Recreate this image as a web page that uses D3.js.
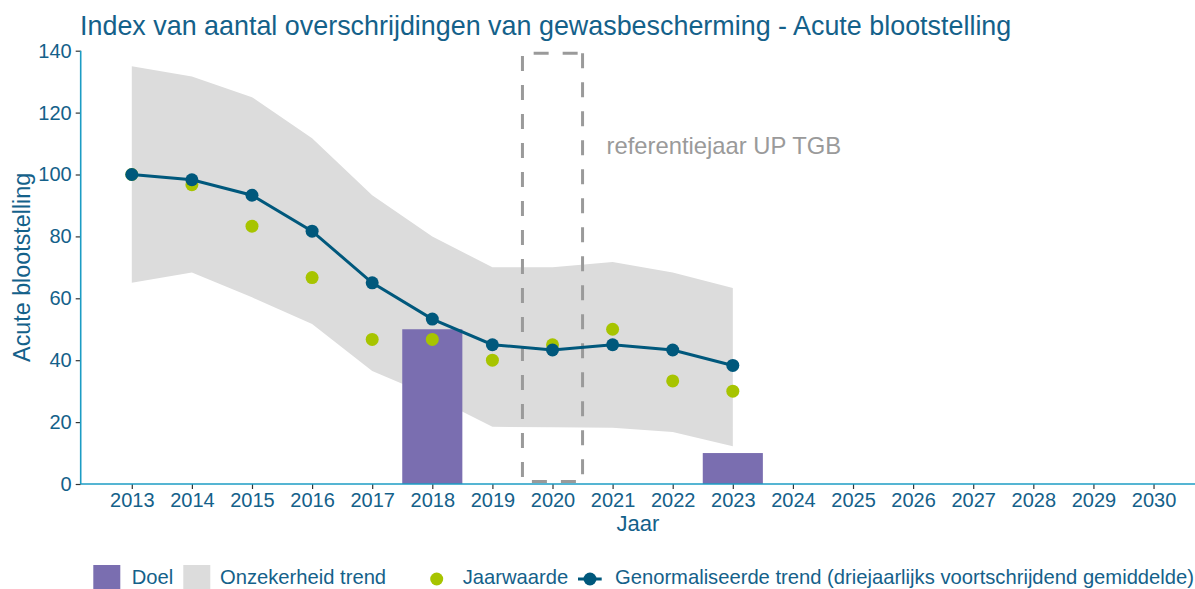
<!DOCTYPE html>
<html>
<head>
<meta charset="utf-8">
<script src="https://cdn.jsdelivr.net/npm/d3@7"></script>
<style>
  html, body { margin: 0; padding: 0; background: #ffffff; }
  svg { display: block; font-family: "Liberation Sans", Arial, sans-serif; }
</style>
</head>
<body>
<svg id="chart" width="1195" height="589"></svg>
<script>
// ---- data ----
const years = [2013, 2014, 2015, 2016, 2017, 2018, 2019, 2020, 2021, 2022, 2023];
const trend = [100, 98.3, 93.3, 81.7, 65, 53.3, 45, 43.3, 45, 43.3, 38.3];
const jaarwaarde = [100, 96.7, 83.3, 66.7, 46.7, 46.7, 40, 45, 50, 33.3, 30];
const bandUpper = [135, 131.7, 125, 111.7, 93.3, 80, 70, 70, 71.7, 68.3, 63.3];
const bandLower = [65, 68.3, 60.3, 51.7, 36.5, 28.3, 18.5, 18.3, 18.2, 16.8, 12.2];
const doelYears = [2018, 2023];
const doelValues = [50, 10];
const refYear = [2020];
const refRange = [0.8, 139.2];
const xTicks = [2013,2014,2015,2016,2017,2018,2019,2020,2021,2022,2023,2024,2025,2026,2027,2028,2029,2030];
const yTicks = [0, 20, 40, 60, 80, 100, 120, 140];
const legendLabels = ["Doel", "Onzekerheid trend", "Jaarwaarde", "Genormaliseerde trend (driejaarlijks voortschrijdend gemiddelde)"];
const titleText = "Index van aantal overschrijdingen van gewasbescherming - Acute blootstelling";

// ---- style ----
const textColor = "#14618a";
const axisColor = "#1c9cc4";
const trendColor = "#00587c";
const greenColor = "#a7c400";
const purple = "#7a6eb0";
const bandColor = "#dcdcdc";
const dashColor = "#9a9a9a";

const svg = d3.select("#chart");
const x = d3.scaleLinear().domain([2012.15, 2030.69]).range([80.7, 1195]);
const y = d3.scaleLinear().domain([0, 140]).range([484, 50.7]);

const rows = years.map((yr, i) => ({yr, t: trend[i], j: jaarwaarde[i], hi: bandUpper[i], lo: bandLower[i]}));

// ribbon
svg.append("path")
  .datum(rows)
  .attr("fill", bandColor)
  .attr("d", d3.area().x(d => x(d.yr)).y0(d => y(d.lo)).y1(d => y(d.hi)));

// doel bars
svg.selectAll("rect.doel")
  .data(doelYears.map((yr, i) => ({yr, v: doelValues[i]})))
  .enter().append("rect")
  .attr("class", "doel")
  .attr("x", d => x(d.yr - 0.5))
  .attr("width", d => x(d.yr + 0.5) - x(d.yr - 0.5))
  .attr("y", d => y(d.v))
  .attr("height", d => y(0) - y(d.v))
  .attr("fill", purple);

// reference dashed rectangle
refYear.forEach(ry => {
  const x0 = x(ry - 0.5), x1 = x(ry + 0.5), yt = y(refRange[1]), yb = y(refRange[0]);
  const p = d3.path();
  p.moveTo(x1, yt); p.lineTo(x1, yb); p.lineTo(x0, yb); p.lineTo(x0, yt); p.closePath();
  svg.append("path")
    .attr("d", p.toString())
    .attr("fill", "none")
    .attr("stroke", dashColor)
    .attr("stroke-width", 3)
    .attr("stroke-dasharray", "15,14");
  svg.append("text")
    .attr("x", x(ry + 0.5) + 24)
    .attr("y", y(106.5))
    .attr("fill", dashColor)
    .attr("font-size", 23.8)
    .text("referentiejaar UP TGB");
});

// axes
const yAxis = svg.append("g")
  .attr("transform", `translate(${x.range()[0]},0)`)
  .call(d3.axisLeft(y).tickValues(yTicks).tickSize(5).tickPadding(4));
yAxis.select(".domain").remove();
yAxis.selectAll(".tick line").attr("stroke", "#333").attr("stroke-width", 1.2);
yAxis.selectAll(".tick text").attr("fill", textColor).attr("font-size", 20).attr("font-family", "Liberation Sans, Arial, sans-serif");

const xAxis = svg.append("g")
  .attr("transform", `translate(0,${y(0)})`)
  .call(d3.axisBottom(x).tickValues(xTicks).tickFormat(d3.format("d")).tickSize(5).tickPadding(4));
xAxis.select(".domain").remove();
xAxis.selectAll(".tick line").attr("stroke", "#333").attr("stroke-width", 1.2);
xAxis.selectAll(".tick text").attr("fill", textColor).attr("font-size", 20).attr("font-family", "Liberation Sans, Arial, sans-serif");

svg.append("line")
  .attr("x1", x.range()[0]).attr("x2", x.range()[1])
  .attr("y1", y(0)).attr("y2", y(0))
  .attr("stroke", axisColor).attr("stroke-width", 1.6);
svg.append("line")
  .attr("x1", x.range()[0]).attr("x2", x.range()[0])
  .attr("y1", y(0)).attr("y2", y(140))
  .attr("stroke", axisColor).attr("stroke-width", 1.6);

// jaarwaarde points
svg.selectAll("circle.jw")
  .data(rows)
  .enter().append("circle")
  .attr("class", "jw")
  .attr("cx", d => x(d.yr)).attr("cy", d => y(d.j)).attr("r", 6.5)
  .attr("fill", greenColor);

// trend line
svg.append("path")
  .datum(rows)
  .attr("fill", "none")
  .attr("stroke", trendColor)
  .attr("stroke-width", 3)
  .attr("d", d3.line().x(d => x(d.yr)).y(d => y(d.t)));
svg.selectAll("circle.tr")
  .data(rows)
  .enter().append("circle")
  .attr("class", "tr")
  .attr("cx", d => x(d.yr)).attr("cy", d => y(d.t)).attr("r", 6.5)
  .attr("fill", trendColor);

// titles
svg.append("text")
  .attr("x", 80).attr("y", 35)
  .attr("fill", textColor).attr("font-size", 26.9)
  .text(titleText);
svg.append("text")
  .attr("x", (x.range()[0] + x.range()[1]) / 2).attr("y", 531)
  .attr("text-anchor", "middle")
  .attr("fill", textColor).attr("font-size", 22)
  .text("Jaar");
svg.append("text")
  .attr("transform", `translate(30,${(y(0) + y(140)) / 2}) rotate(-90)`)
  .attr("text-anchor", "middle")
  .attr("fill", textColor).attr("font-size", 23.3)
  .text("Acute blootstelling");

// legend
const ly = 577;
const lg = svg.append("g");
lg.append("rect").attr("x", 93.3).attr("y", ly - 12).attr("width", 27).attr("height", 27).attr("fill", purple);
lg.append("text").attr("x", 131.7).attr("y", ly).attr("dy", "0.35em").attr("fill", textColor).attr("font-size", 20.2).text(legendLabels[0]);
lg.append("rect").attr("x", 183.3).attr("y", ly - 12).attr("width", 27).attr("height", 27).attr("fill", bandColor);
lg.append("text").attr("x", 220).attr("y", ly).attr("dy", "0.35em").attr("fill", textColor).attr("font-size", 20.2).text(legendLabels[1]);
lg.append("circle").attr("cx", 436.7).attr("cy", ly + 2).attr("r", 6.5).attr("fill", greenColor);
lg.append("text").attr("x", 462.7).attr("y", ly).attr("dy", "0.35em").attr("fill", textColor).attr("font-size", 20.2).text(legendLabels[2]);
lg.append("line").attr("x1", 578).attr("x2", 601.7).attr("y1", ly + 2).attr("y2", ly + 2).attr("stroke", trendColor).attr("stroke-width", 3);
lg.append("circle").attr("cx", 590).attr("cy", ly + 2).attr("r", 6.5).attr("fill", trendColor);
lg.append("text").attr("x", 615).attr("y", ly).attr("dy", "0.35em").attr("fill", textColor).attr("font-size", 20.2).text(legendLabels[3]);
</script>
</body>
</html>
